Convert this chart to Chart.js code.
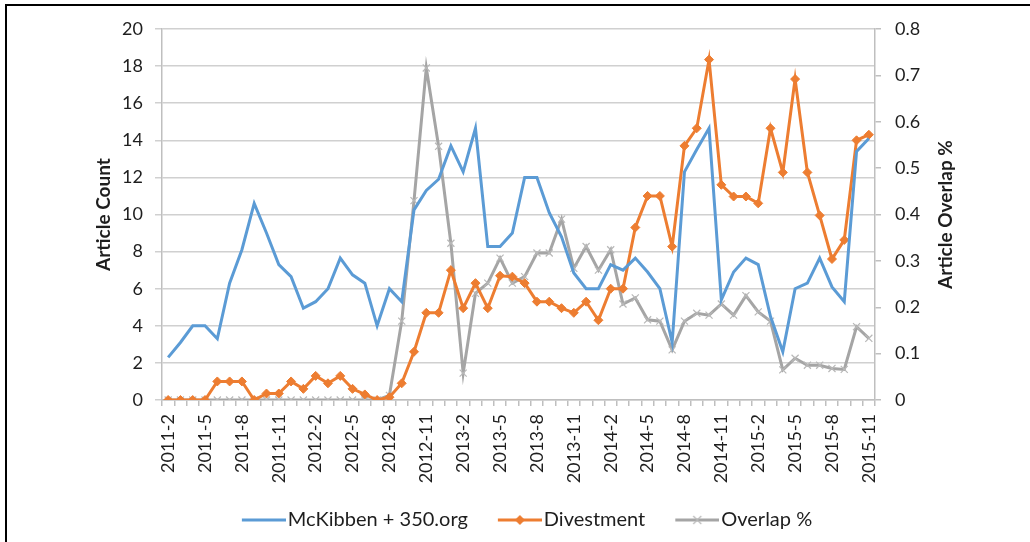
<!DOCTYPE html>
<html lang="en">
  <head>
    <meta charset="UTF-8" />
    <title>Article Count</title>
    <script src="https://cdn.jsdelivr.net/npm/chart.js"></script>
    <style>
      body {
        margin: 0;
        width: 1030px;
        height: 542px;
        overflow: hidden;
        background: #fff;
        position: relative;
      }
      .frame {
        position: absolute;
        left: 5px;
        top: 4px;
        width: 1040px;
        height: 560px;
        border-top: 2px solid #000;
        border-left: 2px solid #000;
      }
      #myChart {
        position: absolute;
        left: 0;
        top: 0;
      }
    </style>
  </head>
  <body>
    <div class="frame"></div>
    <canvas id="myChart" width="1030" height="542"></canvas>
  </body>
</html>

<script>
  const months = [
    "2011-2", "2011-3", "2011-4", "2011-5", "2011-6", "2011-7", "2011-8", "2011-9", "2011-10", "2011-11", "2011-12",
    "2012-1", "2012-2", "2012-3", "2012-4", "2012-5", "2012-6", "2012-7", "2012-8", "2012-9", "2012-10", "2012-11", "2012-12",
    "2013-1", "2013-2", "2013-3", "2013-4", "2013-5", "2013-6", "2013-7", "2013-8", "2013-9", "2013-10", "2013-11", "2013-12",
    "2014-1", "2014-2", "2014-3", "2014-4", "2014-5", "2014-6", "2014-7", "2014-8", "2014-9", "2014-10", "2014-11", "2014-12",
    "2015-1", "2015-2", "2015-3", "2015-4", "2015-5", "2015-6", "2015-7", "2015-8", "2015-9", "2015-10", "2015-11",
  ];

  const mckibben = [
    2.3, 3.1, 4.0, 4.0, 3.3, 6.3, 8.1, 10.6, 9.0, 7.3, 6.65,
    4.95, 5.3, 6.0, 7.65, 6.75, 6.3, 4.0, 6.0, 5.3, 10.25, 11.3, 11.9,
    13.7, 12.3, 14.65, 8.27, 8.27, 9.0, 12.0, 12.0, 10.1, 8.8, 6.85, 6.0,
    6.0, 7.3, 7.0, 7.65, 6.9, 6.0, 3.1, 12.3, 13.5, 14.65, 5.4, 6.9,
    7.65, 7.3, 4.5, 2.6, 6.0, 6.3, 7.65, 6.1, 5.3, 13.4, 14.1,
  ];

  const divestment = [
    0, 0, 0, 0, 1.0, 1.0, 1.0, 0, 0.35, 0.35, 1.0,
    0.6, 1.3, 0.9, 1.3, 0.6, 0.3, 0, 0.15, 0.9, 2.6, 4.7, 4.7,
    7.0, 4.95, 6.3, 4.95, 6.7, 6.65, 6.3, 5.3, 5.3, 4.95, 4.7, 5.3,
    4.3, 6.0, 6.0, 9.3, 11.0, 11.0, 8.27, 13.7, 14.65, 18.35, 11.6, 10.97,
    10.97, 10.6, 14.65, 12.27, 17.3, 12.27, 9.95, 7.6, 8.63, 14.0, 14.3,
  ];

  const overlap = [
    0, 0, 0, 0, 0, 0, 0, 0, 0, 0, 0,
    0, 0, 0, 0, 0, 0, 0, 0.01, 0.17, 0.43, 0.716, 0.547,
    0.338, 0.058, 0.23, 0.252, 0.306, 0.252, 0.266, 0.317, 0.317, 0.39, 0.284, 0.331,
    0.28, 0.324, 0.207, 0.22, 0.173, 0.17, 0.108, 0.17, 0.187, 0.183, 0.207, 0.183,
    0.225, 0.19, 0.17, 0.065, 0.09, 0.075, 0.075, 0.068, 0.066, 0.158, 0.133,
  ];

  const countTicks = [0, 2, 4, 6, 8, 10, 12, 14, 16, 18, 20];
  const overlapTicks = [0, 0.1, 0.2, 0.3, 0.4, 0.5, 0.6, 0.7, 0.8];

  const BLUE = "#5b9bd5";
  const ORANGE = "#ed7d31";
  const GRAY = "#a5a5a5";
  const TEXT = "#1e1e1e";
  const FONT = "Lato, 'Open Sans', sans-serif";

  // line + marker swatch for the legend; the blank left part keeps the
  // swatch close to its own label and away from the previous one
  function makeSample(color, marker) {
    const c = document.createElement("canvas");
    c.width = 62;
    c.height = 14;
    const g = c.getContext("2d");
    g.strokeStyle = color;
    g.lineWidth = 3;
    g.beginPath();
    g.moveTo(18, 7);
    g.lineTo(62, 7);
    g.stroke();
    if (marker === "diamond") {
      g.fillStyle = color;
      g.beginPath();
      g.moveTo(40, 2);
      g.lineTo(45, 7);
      g.lineTo(40, 12);
      g.lineTo(35, 7);
      g.closePath();
      g.fill();
    } else if (marker === "cross") {
      g.strokeStyle = "#b8b8b8";
      g.lineWidth = 1.2;
      g.beginPath();
      g.moveTo(36, 3);
      g.lineTo(44, 11);
      g.moveTo(44, 3);
      g.lineTo(36, 11);
      g.stroke();
    }
    return c;
  }

  const samples = [
    makeSample(BLUE, null),
    makeSample(ORANGE, "diamond"),
    makeSample(GRAY, "cross"),
  ];

  // right axis title reads bottom-to-top, so it is drawn here
  const rightTitle = {
    id: "rightTitle",
    afterDraw(chart) {
      const { ctx, chartArea } = chart;
      ctx.save();
      ctx.translate(946, (chartArea.top + chartArea.bottom) / 2);
      ctx.rotate(-Math.PI / 2);
      ctx.font = "bold 19px " + FONT;
      ctx.fillStyle = TEXT;
      ctx.textAlign = "center";
      ctx.textBaseline = "middle";
      ctx.fillText("Article Overlap %", 0, 0);
      ctx.restore();
    },
  };

  let ctx = document.getElementById("myChart");

  let chart = new Chart(ctx, {
    type: "line",
    data: {
      labels: months,
      datasets: [
        {
          label: "McKibben + 350.org",
          data: mckibben,
          borderColor: BLUE,
          backgroundColor: BLUE,
          borderWidth: 3,
          pointRadius: 0,
          yAxisID: "y",
        },
        {
          label: "Divestment",
          data: divestment,
          borderColor: ORANGE,
          backgroundColor: ORANGE,
          borderWidth: 3,
          pointStyle: "rectRot",
          pointRadius: 4.5,
          pointBackgroundColor: ORANGE,
          pointBorderColor: ORANGE,
          pointBorderWidth: 1,
          yAxisID: "y",
        },
        {
          label: "Overlap %",
          data: overlap,
          borderColor: GRAY,
          backgroundColor: GRAY,
          borderWidth: 3,
          pointStyle: "crossRot",
          pointRadius: 5,
          pointBorderColor: "#b8b8b8",
          pointBorderWidth: 1.2,
          yAxisID: "y1",
        },
      ],
    },
    options: {
      responsive: false,
      animation: false,
      devicePixelRatio: 1,
      layout: {
        padding: { left: 14, top: 29, right: 0, bottom: 2 },
      },
      elements: {
        line: { tension: 0 },
      },
      plugins: {
        tooltip: { enabled: false },
        legend: {
          position: "bottom",
          labels: {
            usePointStyle: true,
            pointStyleWidth: 46,
            padding: 20,
            color: TEXT,
            font: { family: FONT, size: 20 },
            generateLabels(chart) {
              const items = Chart.defaults.plugins.legend.labels.generateLabels(chart);
              items.forEach((item, i) => {
                item.pointStyle = samples[i];
              });
              return items;
            },
          },
        },
      },
      scales: {
        x: {
          offset: true,
          grid: {
            offset: true,
            drawOnChartArea: false,
            drawTicks: true,
            tickLength: 6,
            color: "#bfbfbf",
            lineWidth: 1.5,
          },
          border: { color: "#bfbfbf", width: 1.5 },
          ticks: {
            autoSkip: false,
            minRotation: 90,
            maxRotation: 90,
            padding: 8,
            color: TEXT,
            font: { family: FONT, size: 18 },
            callback: function (val, idx) {
              return idx % 3 === 0 ? this.getLabelForValue(val) : "";
            },
          },
          afterFit(scale) {
            scale.height = 90;
          },
        },
        y: {
          position: "left",
          min: countTicks[0],
          max: countTicks[countTicks.length - 1],
          afterBuildTicks(scale) {
            scale.ticks = countTicks.map((v) => ({ value: v }));
          },
          grid: {
            color: "#d0d0d0",
            lineWidth: 1.5,
            tickLength: 7,
          },
          border: { color: "#bfbfbf", width: 1.5 },
          ticks: {
            padding: 12,
            color: TEXT,
            font: { family: FONT, size: 18 },
          },
          title: {
            display: true,
            text: "Article Count",
            color: TEXT,
            font: { family: FONT, size: 19, weight: "bold" },
            padding: { top: 78, bottom: 0 },
          },
          afterFit(scale) {
            scale.width = 148;
          },
        },
        y1: {
          position: "right",
          min: overlapTicks[0],
          max: overlapTicks[overlapTicks.length - 1],
          afterBuildTicks(scale) {
            scale.ticks = overlapTicks.map((v) => ({ value: v }));
          },
          grid: {
            drawOnChartArea: false,
            color: "#bfbfbf",
            lineWidth: 1.5,
            tickLength: 6,
          },
          border: { color: "#bfbfbf", width: 1.5 },
          ticks: {
            padding: 14,
            color: TEXT,
            font: { family: FONT, size: 18 },
            callback: (v) => String(+v.toFixed(1)),
          },
          afterFit(scale) {
            scale.width = 155;
          },
        },
      },
    },
    plugins: [rightTitle],
  });
</script>
